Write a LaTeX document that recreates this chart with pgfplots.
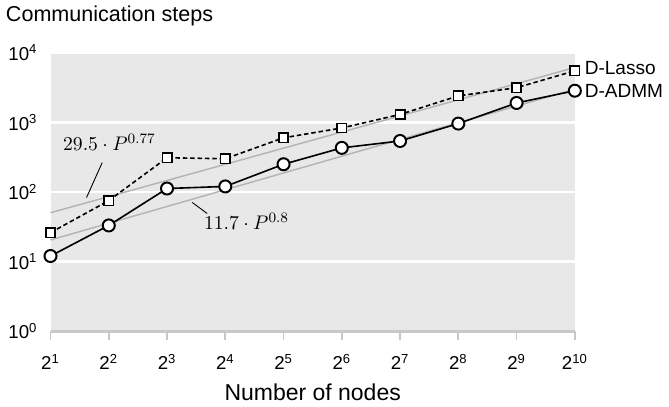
\documentclass[border=0pt]{standalone}
\usepackage{pgfplots}
\pgfplotsset{compat=1.18}
\usepackage{fontspec}
\setmainfont{Liberation Sans}

\definecolor{bgc}{HTML}{E8E8E8}
\definecolor{fitc}{HTML}{B4B4B4}
\definecolor{axc}{HTML}{C8C8C8}

\newcommand{\lbl}{\fontsize{12}{14}\selectfont}
\newcommand{\xlbl}{\fontsize{12.8}{15}\selectfont}
\newcommand{\leg}{\fontsize{10.6}{12.6}\selectfont}
\newcommand{\fit}{\fontsize{11}{13}\selectfont}
\newcommand{\tck}{\fontsize{10.4}{12.5}\selectfont}

\begin{document}
\begin{tikzpicture}
\begin{axis}[
    scale only axis,
    width=292pt, height=155pt,
    xmode=log, log basis x=2,
    ymode=log,
    xmin=2, xmax=1024,
    ymin=1, ymax=10000,
    xtick={2,4,8,16,32,64,128,256,512,1024},
    xticklabels={2\textsuperscript{1},2\textsuperscript{2},2\textsuperscript{3},2\textsuperscript{4},2\textsuperscript{5},2\textsuperscript{6},2\textsuperscript{7},2\textsuperscript{8},2\textsuperscript{9},2\textsuperscript{10}},
    ytick={1,10,100,1000,10000},
    yticklabels={10\textsuperscript{0},10\textsuperscript{1},10\textsuperscript{2},10\textsuperscript{3},10\textsuperscript{4}},
    axis x line*=bottom,
    axis y line*=left,
    x axis line style={axc, line width=1.6pt, -},
    y axis line style={draw=none},
    xtick style={axc, line width=1pt},
    ytick style={draw=none},
    tick align=outside,
    major tick length=5pt,
    tick label style={font=\tck},
    xticklabel style={anchor=base, yshift=-16.5pt},
    yticklabel style={xshift=1.2pt},
    ymajorgrids,
    major grid style={white, line width=1.5pt},
    axis background/.style={fill=bgc},
    clip=false,
    ]
    % power-law fits
    \addplot[fitc, line width=0.8pt] coordinates {(2,50.3) (1024,6140)};
    \addplot[fitc, line width=0.8pt] coordinates {(2,20.4) (1024,2995)};

    % D-Lasso
    \addplot[black, dash pattern=on 2.5pt off 1.6pt, line width=0.9pt, mark=square*,
        mark size=2.6pt, mark options={solid, fill=white, line width=0.9pt}]
    coordinates {
        (2,26) (4,75) (8,310) (16,300) (32,600)
        (64,830) (128,1300) (256,2400) (512,3150) (1024,5500)
    };
    % D-ADMM
    \addplot[black, line width=0.9pt, mark=*,
        mark size=3.35pt, mark options={fill=white, line width=1.1pt}]
    coordinates {
        (2,12) (4,33) (8,112) (16,120) (32,250)
        (64,430) (128,540) (256,960) (512,1900) (1024,2850)
    };

    \node[anchor=west, font=\leg] at (axis cs:1024,5500) [xshift=2pt, yshift=1.5pt] {D-Lasso};
    \node[anchor=west, font=\leg] at (axis cs:1024,2850) [xshift=2pt] {D-ADMM};

    \draw[black, line width=0.5pt] (axis cs:3.7,264) -- (axis cs:3.07,83);
    \node[font=\fit] at (axis cs:4.03,520) {$29.5\cdot P^{0.77}$};
    \draw[black, line width=0.5pt] (axis cs:10.8,70.6) -- (axis cs:12.9,49);
    \node[font=\fit] at (axis cs:20.6,38) {$11.7\cdot P^{0.8}$};

    \node[anchor=base west, font=\lbl] at (rel axis cs:-0.097,1.112) {Communication steps};
    \node[anchor=base, font=\xlbl] at (rel axis cs:0.5,-0.25) {Number of nodes};
\end{axis}
\end{tikzpicture}
\end{document}
